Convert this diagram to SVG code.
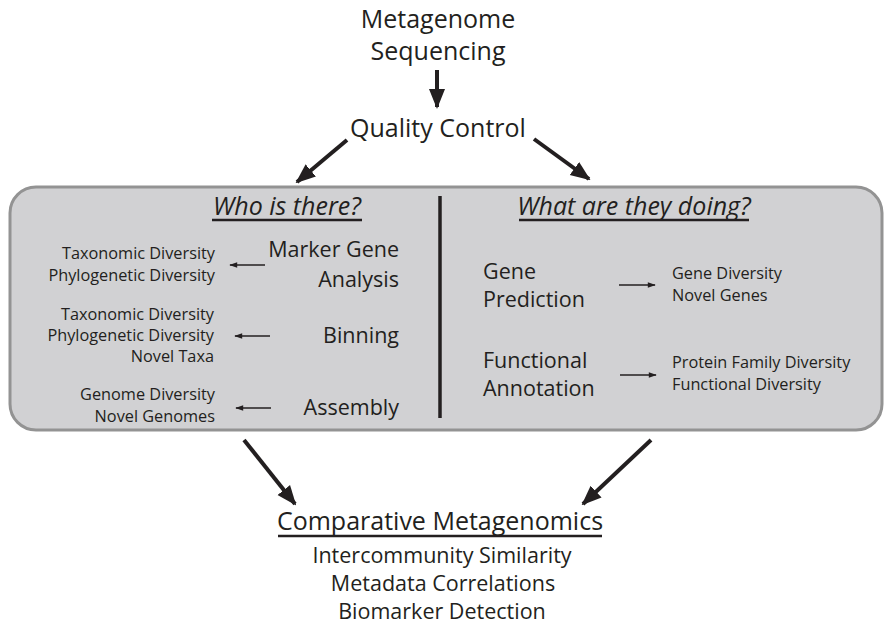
<svg xmlns="http://www.w3.org/2000/svg" width="892" height="631" viewBox="0 0 892 631">
<defs>
<marker id="ah" viewBox="0 0 10 10" refX="9" refY="5" markerWidth="5" markerHeight="5" orient="auto" markerUnits="strokeWidth"><path d="M0,1 L10,5 L0,9 Z" fill="#231f20"/></marker>
<marker id="ahs" viewBox="0 0 10 10" refX="9" refY="5" markerWidth="6" markerHeight="5" orient="auto" markerUnits="strokeWidth"><path d="M0,1.5 L10,5 L0,8.5 Z" fill="#231f20"/></marker>
</defs>
<style>
text{font-family:"Open Sans","Noto Sans","Liberation Sans",sans-serif;fill:#231f20}
.big{font-size:25px}
.mid{font-size:21.5px}
.sm{font-size:16.3px}
.hd{font-size:25px;font-style:italic}
.c{text-anchor:middle}
.r{text-anchor:end}
.ul{stroke:#231f20;stroke-width:2.5}
.conn line{stroke:#231f20;stroke-width:4;marker-end:url(#ah)}
.conn line.s{stroke-width:1.6;marker-end:url(#ahs)}
</style>
<rect width="892" height="631" fill="#ffffff"/>
<g id="panel">
<rect x="10" y="187" width="872" height="243" rx="26" ry="26" fill="#d1d1d3" stroke="#939393" stroke-width="3"/>
<line x1="440" y1="196" x2="440" y2="418" stroke="#231f20" stroke-width="3.5"/>
</g>
<g id="sequencing"><text class="big c" x="438" y="28">Metagenome</text><text class="big c" x="438" y="60">Sequencing</text></g>
<g id="qc"><text class="big c" x="438" y="137">Quality Control</text></g>
<g id="who"><text class="hd c" x="287" y="215">Who is there?</text><line class="ul" x1="212" y1="220" x2="362" y2="220"/></g>
<g id="what"><text class="hd c" x="634" y="215">What are they doing?</text><line class="ul" x1="519" y1="220" x2="749" y2="220"/></g>
<g id="marker"><text class="mid r" x="399" y="257">Marker Gene</text><text class="mid r" x="399" y="287">Analysis</text></g>
<g id="marker-out"><text class="sm r" x="215" y="259">Taxonomic Diversity</text><text class="sm r" x="215" y="281">Phylogenetic Diversity</text></g>
<g id="binning"><text class="mid r" x="399" y="343">Binning</text></g>
<g id="binning-out"><text class="sm r" x="214" y="320">Taxonomic Diversity</text><text class="sm r" x="214" y="341">Phylogenetic Diversity</text><text class="sm r" x="214" y="362">Novel Taxa</text></g>
<g id="assembly"><text class="mid r" x="399" y="415">Assembly</text></g>
<g id="assembly-out"><text class="sm r" x="215" y="400">Genome Diversity</text><text class="sm r" x="215" y="422">Novel Genomes</text></g>
<g id="geneprediction"><text class="mid" x="483" y="279">Gene</text><text class="mid" x="483" y="307">Prediction</text></g>
<g id="gene-out"><text class="sm" x="672" y="279">Gene Diversity</text><text class="sm" x="672" y="301">Novel Genes</text></g>
<g id="funcann"><text class="mid" x="483" y="368">Functional</text><text class="mid" x="483" y="396">Annotation</text></g>
<g id="func-out"><text class="sm" x="672" y="368">Protein Family Diversity</text><text class="sm" x="672" y="390">Functional Diversity</text></g>
<g id="comparative"><text class="big c" x="440" y="530">Comparative Metagenomics</text><line class="ul" x1="278" y1="536" x2="602" y2="536"/>
<text class="mid c" x="442" y="563">Intercommunity Similarity</text><text class="mid c" x="443" y="591">Metadata Correlations</text><text class="mid c" x="442" y="619">Biomarker Detection</text></g>
<g class="conn" id="connectors">
<line x1="437" y1="70" x2="437" y2="107"/>
<line x1="347" y1="140" x2="297" y2="182"/>
<line x1="534" y1="139" x2="589" y2="179"/>
<line class="s" x1="265" y1="265" x2="230" y2="265"/>
<line class="s" x1="270" y1="336" x2="235" y2="336"/>
<line class="s" x1="271" y1="408" x2="236" y2="408"/>
<line class="s" x1="619" y1="285" x2="655" y2="285"/>
<line class="s" x1="620" y1="375" x2="656" y2="375"/>
<line x1="244" y1="440" x2="295" y2="504"/>
<line x1="651" y1="440" x2="583" y2="504"/>
</g>
</svg>
